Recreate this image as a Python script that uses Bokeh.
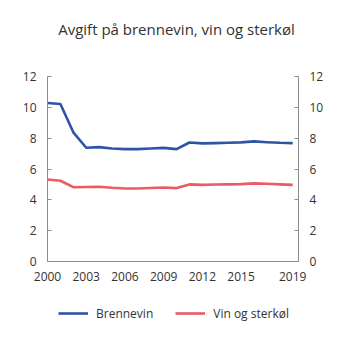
from bokeh.plotting import figure
from bokeh.models import Range1d, LinearAxis, FixedTicker, Legend, LegendItem, Div
from bokeh.layouts import column
from bokeh.embed import file_html
from bokeh.resources import INLINE

years = [2000, 2001, 2002, 2003, 2004, 2005, 2006, 2007, 2008, 2009, 2010,
         2011, 2012, 2013, 2014, 2015, 2016, 2017, 2018, 2019]
brennevin = [10.28, 10.22, 8.38, 7.38, 7.42, 7.33, 7.29, 7.29, 7.33, 7.37, 7.29,
             7.72, 7.66, 7.68, 7.70, 7.73, 7.79, 7.74, 7.70, 7.68]
vin_og_sterkol = [5.32, 5.24, 4.82, 4.83, 4.85, 4.78, 4.74, 4.74, 4.77, 4.80, 4.76,
                  5.00, 4.97, 4.99, 5.00, 5.02, 5.07, 5.04, 5.00, 4.97]
x_ticks = [2000, 2003, 2006, 2009, 2012, 2015, 2019]
y_ticks = [0, 2, 4, 6, 8, 10, 12]
series_names = ["Brennevin", "Vin og sterkøl"]
series_colors = ["#2f54a5", "#ee5a63"]
title_text = "Avgift på brennevin, vin og sterkøl"

FONT = "Open Sans"
TXT = "#333333"
AX = "#8c8c8c"

title = Div(text=title_text, width=353, height=50, margin=0,
            styles={"text-align": "center", "font-family": FONT,
                    "font-size": "15px", "color": TXT, "line-height": "20px",
                    "padding-top": "19px", "width": "353px"})

p = figure(width=353, height=240, output_backend="svg", toolbar_location=None,
           x_range=Range1d(2000, 2019.45), y_range=Range1d(0, 12),
           min_border_left=47, min_border_right=55, min_border_top=26,
           min_border_bottom=29, outline_line_color=None)
p.xgrid.visible = False
p.ygrid.visible = False

for ys, c in zip([brennevin, vin_og_sterkol], series_colors):
    p.line(years, ys, line_color=c, line_width=2.6, line_join="round")

p.xaxis.ticker = FixedTicker(ticks=x_ticks)
p.yaxis.ticker = FixedTicker(ticks=y_ticks)
right = LinearAxis(ticker=FixedTicker(ticks=y_ticks))
p.add_layout(right, "right")

for ax in p.xaxis + p.yaxis + [right]:
    ax.axis_line_color = AX
    ax.major_tick_line_color = AX
    ax.minor_tick_line_color = None
    ax.major_label_text_font = FONT
    ax.major_label_text_font_size = "12px"
    ax.major_label_text_color = TXT
for ax in p.yaxis + [right]:
    ax.major_tick_in = 4
    ax.major_tick_out = 0
    ax.major_label_standoff = 11
p.xaxis.major_tick_in = 0
p.xaxis.major_tick_out = 0
p.xaxis.major_label_standoff = 10

# legend-only figure below the chart
lg = figure(width=353, height=46, output_backend="svg", toolbar_location=None,
            x_range=Range1d(-10, -9), y_range=Range1d(-10, -9),
            min_border_left=47, min_border_right=55, min_border_top=0,
            min_border_bottom=0, outline_line_color=None)
lg.axis.visible = False
lg.grid.visible = False
items = []
for ys, c, name in zip([brennevin, vin_og_sterkol], series_colors, series_names):
    r = lg.line(years, ys, line_color=c, line_width=2.6)
    items.append(LegendItem(label=name, renderers=[r]))
legend = Legend(items=items, orientation="horizontal", location=(11, 13),
                label_text_font=FONT, label_text_font_size="12px",
                label_text_color=TXT, glyph_width=30, spacing=22,
                label_standoff=8, border_line_color=None,
                background_fill_alpha=0, margin=0, padding=0)
lg.add_layout(legend, "center")

open("out.html", "w").write(file_html(column(title, p, lg), INLINE))
